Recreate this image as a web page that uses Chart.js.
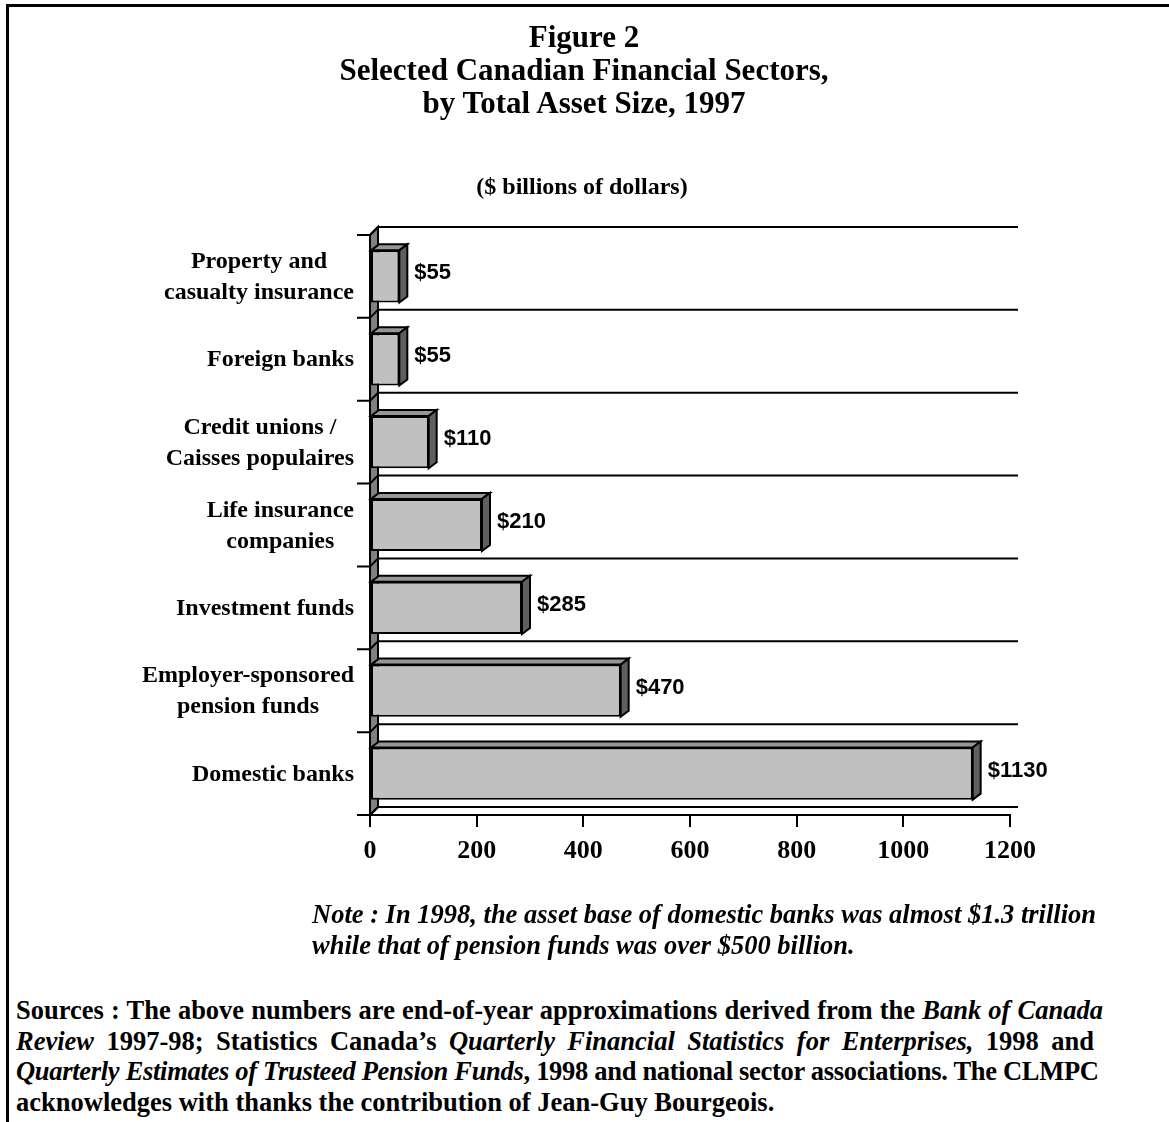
<!DOCTYPE html>
<html>
<head>
<meta charset="utf-8">
<script src="https://cdn.jsdelivr.net/npm/chart.js@4.4.1/dist/chart.umd.min.js"></script>
<style>
  body { margin: 0; background: #fff; }
  #page { position: relative; width: 1169px; height: 1122px; overflow: hidden; font-family: "Liberation Serif", "Times New Roman", serif; font-weight: bold; color: #000; }
  #frame { position: absolute; left: 6px; top: 4px; width: 1170px; height: 1130px; border-left: 3px solid #000; border-top: 3px solid #000; }
  #chart { position: absolute; left: 0; top: 0; }
  .txt { position: absolute; white-space: nowrap; }
  #title { left: 0; width: 1168px; text-align: center; top: 20px; font-size: 31px; line-height: 33px; }
  #unit { left: 0; width: 1164px; text-align: center; top: 170px; font-size: 24px; line-height: 32px; }
  #note { left: 312px; top: 899px; font-size: 26.5px; line-height: 31px; font-style: italic; }
  #sources { position: absolute; left: 16px; top: 995px; font-size: 26.5px; line-height: 30.7px; }
  #sources div { white-space: nowrap; text-align: justify; text-align-last: justify; }
  #sources div.last { text-align-last: left; }
</style>
</head>
<body>
<div id="page">
  <div id="frame"></div>
  <canvas id="chart" width="1169" height="900"></canvas>
  <div class="txt" id="title">Figure 2<br>Selected Canadian Financial Sectors,<br>by Total Asset Size, 1997</div>
  <div class="txt" id="unit">($ billions of dollars)</div>
  <div class="txt" id="note">Note : In 1998, the asset base of domestic banks was almost $1.3 trillion<br>while that of pension funds was over $500 billion.</div>
  <div id="sources">
    <div style="width:1087px">Sources : The above numbers are end-of-year approximations derived from the <i>Bank of Canada</i></div>
    <div style="width:1078px"><i>Review</i> 1997-98; Statistics Canada’s <i>Quarterly Financial Statistics for Enterprises,</i> 1998 and</div>
    <div style="width:1082px; letter-spacing:-0.3px"><i>Quarterly Estimates of Trusteed Pension Funds</i>, 1998 and national sector associations. The CLMPC</div>
    <div class="last">acknowledges with thanks the contribution of Jean-Guy Bourgeois.</div>
  </div>
</div>
<script>
// Data
const categories = [
  ["Property and", "casualty insurance"],
  ["Foreign banks"],
  ["Credit unions /", "Caisses populaires"],
  ["Life insurance", "companies"],
  ["Investment funds"],
  ["Employer-sponsored", "pension funds"],
  ["Domestic banks"]
];
const assets = [55, 55, 110, 210, 285, 470, 1130];
const xMin = 0;
const xMax = 1200;
const xStep = 200;

const serif = "'Liberation Serif', 'Times New Roman', serif";
const sans = "'Liberation Sans', Arial, sans-serif";

// 3D depth of the back wall / gridlines and of the bars
const wallDX = 8, wallDY = 8;
const barDX = 8, barDY = 6;

function poly(ctx, pts, fill) {
  ctx.beginPath();
  ctx.moveTo(pts[0][0], pts[0][1]);
  for (let i = 1; i < pts.length; i++) ctx.lineTo(pts[i][0], pts[i][1]);
  ctx.closePath();
  if (fill) { ctx.fillStyle = fill; ctx.fill(); }
  ctx.stroke();
}

const backdrop = {
  id: "backdrop",
  beforeDatasetsDraw(chart) {
    const { ctx, chartArea: a } = chart;
    const band = (a.bottom - a.top) / categories.length;
    ctx.save();
    ctx.strokeStyle = "#000";
    ctx.lineWidth = 2;

    // wall
    poly(ctx, [[a.left, a.top], [a.left + wallDX, a.top - wallDY], [a.left + wallDX, a.bottom - wallDY], [a.left, a.bottom]], "#808080");

    for (let i = 0; i <= categories.length; i++) {
      const y = a.top + i * band;
      ctx.beginPath();
      ctx.moveTo(a.left - 13, y);
      ctx.lineTo(a.left, y);
      ctx.lineTo(a.left + wallDX, y - wallDY);
      ctx.lineTo(a.right + wallDX, y - wallDY);
      ctx.stroke();
    }
    // front axis lines
    ctx.beginPath();
    ctx.moveTo(a.left - 13, a.bottom);
    ctx.lineTo(a.right, a.bottom);
    ctx.moveTo(a.left, a.top);
    ctx.lineTo(a.left, a.bottom);
    ctx.stroke();
    ctx.restore();
  },
  afterDatasetsDraw(chart) {
    const { ctx } = chart;
    const bars = chart.getDatasetMeta(0).data;
    ctx.save();
    ctx.strokeStyle = "#000";
    ctx.lineWidth = 2;
    bars.forEach((bar, i) => {
      const { x, y, base, height } = bar.getProps(["x", "y", "base", "height"], true);
      const top = y - height / 2, bot = y + height / 2;
      poly(ctx, [[base, top], [base + barDX, top - barDY], [x + barDX, top - barDY], [x, top]], "#969696");
      poly(ctx, [[x, top], [x + barDX, top - barDY], [x + barDX, bot - barDY], [x, bot]], "#5f5f5f");

      ctx.fillStyle = "#000";
      ctx.font = "bold 22px " + sans;
      ctx.textAlign = "left";
      ctx.textBaseline = "middle";
      ctx.fillText("$" + assets[i], x + barDX + 7, y - 3);
    });

    // category labels: block right-aligned, lines centred
    const yScale = chart.scales.y;
    ctx.font = "bold 24px " + serif;
    ctx.textAlign = "center";
    categories.forEach((lines, i) => {
      const cy = yScale.getPixelForValue(i) + 1;
      const w = Math.max(...lines.map((l) => ctx.measureText(l).width));
      const cx = 354 - w / 2;
      lines.forEach((l, j) => {
        ctx.fillText(l, cx, cy + (j - (lines.length - 1) / 2) * 31);
      });
    });
    ctx.restore();
  }
};

new Chart(document.getElementById("chart"), {
  type: "bar",
  data: {
    labels: categories,
    datasets: [
      {
        data: assets,
        backgroundColor: "#c0c0c0",
        borderColor: "#000",
        borderWidth: 2,
        borderSkipped: false,
        categoryPercentage: 1,
        barPercentage: 0.63
      }
    ]
  },
  options: {
    indexAxis: "y",
    responsive: false,
    animation: false,
    layout: {
      padding: { left: 0, top: 235, right: 159, bottom: 0 }
    },
    plugins: {
      legend: { display: false },
      tooltip: { enabled: false }
    },
    scales: {
      x: {
        min: xMin,
        max: xMax,
        afterFit(s) { s.height = 85; },
        ticks: {
          stepSize: xStep,
          color: "#000",
          padding: 9,
          font: { family: serif, size: 26, weight: "bold" },
          callback: (v) => String(v)
        },
        grid: {
          drawOnChartArea: false,
          drawTicks: true,
          tickLength: 12,
          color: "#000",
          lineWidth: 2
        },
        border: { display: true, color: "#000", width: 2 }
      },
      y: {
        afterFit(s) { s.width = 370; },
        ticks: { display: false },
        grid: { display: false },
        border: { display: false }
      }
    }
  },
  plugins: [backdrop]
});
</script>
</body>
</html>
